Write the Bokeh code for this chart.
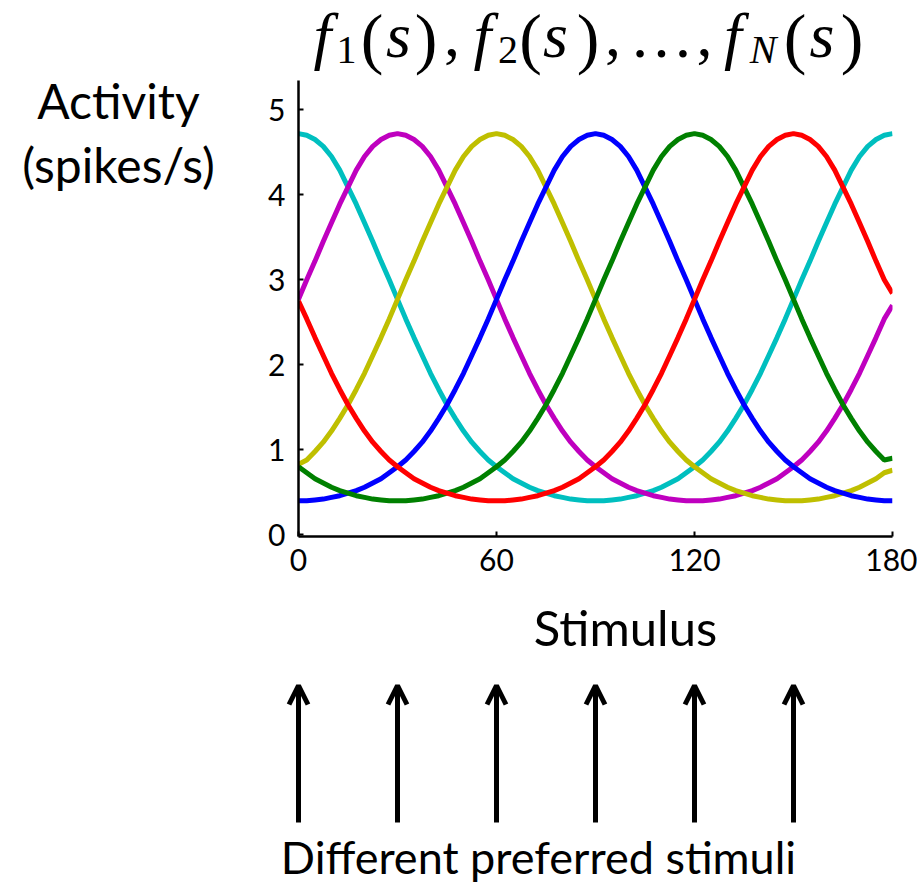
from bokeh.plotting import figure
from bokeh.layouts import column, row
from bokeh.models import Range1d, Label, Arrow, OpenHead, FixedTicker, ColumnDataSource
from bokeh.embed import file_html
from bokeh.resources import INLINE

# ---------------- data (every 2.5 degrees) ----------------
stimulus = [2.5 * i for i in range(73)]
preferred = [0, 30, 60, 90, 120, 150]

cyan = [4.72, 4.70, 4.65, 4.57, 4.45, 4.29, 4.09, 3.89, 3.67, 3.45, 3.22, 3.00, 2.77,
        2.54, 2.32, 2.11, 1.90, 1.71, 1.53, 1.37, 1.22, 1.09, 0.98, 0.88, 0.80, 0.73,
        0.66, 0.61, 0.56, 0.52, 0.49, 0.46, 0.44, 0.42, 0.41, 0.40, 0.40,
        0.40, 0.41, 0.42, 0.44, 0.46, 0.49, 0.52, 0.56, 0.61, 0.66, 0.73, 0.80, 0.88,
        0.98, 1.09, 1.22, 1.37, 1.53, 1.71, 1.90, 2.11, 2.32, 2.54, 2.77, 3.00, 3.22,
        3.45, 3.67, 3.89, 4.09, 4.29, 4.45, 4.57, 4.65, 4.70, 4.72]
magenta = [2.77, 3.00, 3.22, 3.45, 3.67, 3.89, 4.09, 4.29, 4.45, 4.57, 4.65, 4.70, 4.72,
           4.70, 4.65, 4.57, 4.45, 4.29, 4.09, 3.89, 3.67, 3.45, 3.22, 3.00, 2.77, 2.54,
           2.32, 2.11, 1.90, 1.71, 1.53, 1.37, 1.22, 1.09, 0.98, 0.88, 0.80, 0.73, 0.66,
           0.61, 0.56, 0.52, 0.49, 0.46, 0.44, 0.42, 0.41, 0.40, 0.40,
           0.40, 0.41, 0.42, 0.44, 0.46, 0.49, 0.52, 0.56, 0.61, 0.66, 0.73, 0.80, 0.88,
           0.98, 1.09, 1.22, 1.37, 1.53, 1.71, 1.90, 2.11, 2.32, 2.54, 2.70]
yellow = [0.83, 0.88, 0.98, 1.09, 1.22, 1.37, 1.53, 1.71, 1.90, 2.11, 2.32, 2.54, 2.77,
          3.00, 3.22, 3.45, 3.67, 3.89, 4.09, 4.29, 4.45, 4.57, 4.65, 4.70, 4.72,
          4.70, 4.65, 4.57, 4.45, 4.29, 4.09, 3.89, 3.67, 3.45, 3.22, 3.00, 2.77, 2.54,
          2.32, 2.11, 1.90, 1.71, 1.53, 1.37, 1.22, 1.09, 0.98, 0.88, 0.80, 0.73, 0.66,
          0.61, 0.56, 0.52, 0.49, 0.46, 0.44, 0.42, 0.41, 0.40, 0.40,
          0.40, 0.41, 0.42, 0.44, 0.46, 0.49, 0.52, 0.56, 0.61, 0.66, 0.73, 0.76]
blue = [0.40, 0.40, 0.41, 0.42, 0.44, 0.46, 0.49, 0.52, 0.56, 0.61, 0.66, 0.73, 0.80,
        0.88, 0.98, 1.09, 1.22, 1.37, 1.53, 1.71, 1.90, 2.11, 2.32, 2.54, 2.77, 3.00,
        3.22, 3.45, 3.67, 3.89, 4.09, 4.29, 4.45, 4.57, 4.65, 4.70, 4.72,
        4.70, 4.65, 4.57, 4.45, 4.29, 4.09, 3.89, 3.67, 3.45, 3.22, 3.00, 2.77, 2.54,
        2.32, 2.11, 1.90, 1.71, 1.53, 1.37, 1.22, 1.09, 0.98, 0.88, 0.80, 0.73, 0.66,
        0.61, 0.56, 0.52, 0.49, 0.46, 0.44, 0.42, 0.41, 0.40, 0.40]
green = [0.80, 0.73, 0.66, 0.61, 0.56, 0.52, 0.49, 0.46, 0.44, 0.42, 0.41, 0.40, 0.40,
         0.40, 0.41, 0.42, 0.44, 0.46, 0.49, 0.52, 0.56, 0.61, 0.66, 0.73, 0.80, 0.88,
         0.98, 1.09, 1.22, 1.37, 1.53, 1.71, 1.90, 2.11, 2.32, 2.54, 2.77, 3.00, 3.22,
         3.45, 3.67, 3.89, 4.09, 4.29, 4.45, 4.57, 4.65, 4.70, 4.72,
         4.70, 4.65, 4.57, 4.45, 4.29, 4.09, 3.89, 3.67, 3.45, 3.22, 3.00, 2.77, 2.54,
         2.32, 2.11, 1.90, 1.71, 1.53, 1.37, 1.22, 1.09, 0.98, 0.88, 0.90]
red = [2.75, 2.54, 2.32, 2.11, 1.90, 1.71, 1.53, 1.37, 1.22, 1.09, 0.98, 0.88, 0.80,
       0.73, 0.66, 0.61, 0.56, 0.52, 0.49, 0.46, 0.44, 0.42, 0.41, 0.40, 0.40,
       0.40, 0.41, 0.42, 0.44, 0.46, 0.49, 0.52, 0.56, 0.61, 0.66, 0.73, 0.80, 0.88,
       0.98, 1.09, 1.22, 1.37, 1.53, 1.71, 1.90, 2.11, 2.32, 2.54, 2.77, 3.00, 3.22,
       3.45, 3.67, 3.89, 4.09, 4.29, 4.45, 4.57, 4.65, 4.70, 4.72,
       4.70, 4.65, 4.57, 4.45, 4.29, 4.09, 3.89, 3.67, 3.45, 3.22, 3.00, 2.84]

series_values = [cyan, magenta, yellow, blue, green, red]
series_colors = ["#00BFBF", "#BF00BF", "#BFBF00", "#0000FF", "#008000", "#FF0000"]

x_ticks = [0, 60, 120, 180]
y_ticks = [0, 1, 2, 3, 4, 5]

# ---------------- layout geometry (page pixels) ----------------
TOTAL_W = 917
TITLE_H = 80          # page y 0..80   (title strip, right of the left strip)
MID_H = 500           # page y 80..580 (main plot)
BOT_H = 305           # page y 580..885
LEFT_W = 240          # left strip spans page y 0..580
FRAME_W = 594
PX_PER_DEG = 3.3
PX_PER_UNIT = 85.0
FRAME_LEFT = 298      # page x of stimulus = 0
ZERO_Y = 534.3        # page y of activity = 0
AXIS_Y = 536          # page y of the x axis line
BASE_SHIFT = 0.38     # em correction for label baseline placement

LABEL_FONT = "Lato"
SERIF = "Times New Roman"


def blank_fig(w, h, xr, yr):
    f = figure(width=w, height=h, x_range=xr, y_range=yr, output_backend="svg",
               toolbar_location=None, x_axis_location=None, y_axis_location=None,
               min_border=0, min_border_left=0, min_border_right=0,
               min_border_top=0, min_border_bottom=0)
    f.outline_line_color = None
    f.grid.visible = False
    f.background_fill_color = "white"
    f.border_fill_color = "white"
    return f


def put(f, text, x, y, size, font=LABEL_FONT, style="normal", align="center"):
    f.add_layout(Label(x=x, y=y - BASE_SHIFT * size, text=text, text_align=align,
                       text_baseline="alphabetic", text_font=font,
                       text_font_size=f"{size}px", text_font_style=style,
                       text_color="black"))


main_w = TOTAL_W - LEFT_W

# ---------------- title strip: f1(s), f2(s), ..., fN(s) ----------------
# its frame is aligned by the column layout with the main plot frame (page x 298..892)
title_fig = blank_fig(main_w, TITLE_H, Range1d(FRAME_LEFT, FRAME_LEFT + FRAME_W), Range1d(TITLE_H, 0))
UP = 2
PAREN = 68
title_parts = [
    ("f", 322, 61, 64, "italic"), ("1", 346, 66.5, 40, "normal"),
    ("(", 371.5, 65, PAREN, "normal"), ("s", 398, 61, 64, "italic"), (")", 425.5, 65, PAREN, "normal"),
    (",", 451.5, 61, 64, "normal"),
    ("f", 482, 61, 64, "italic"), ("2", 507.5, 66.5, 40, "normal"),
    ("(", 530, 65, PAREN, "normal"), ("s", 555, 61, 64, "italic"), (")", 587.5, 65, PAREN, "normal"),
    (",", 612.5, 61, 64, "normal"), ("\u2026", 661, 61, 64, "normal"), (",", 704, 61, 64, "normal"),
    ("f", 732.5, 61, 64, "italic"), ("N", 762.5, 66.5, 40, "italic"),
    ("(", 794.5, 65, PAREN, "normal"), ("s", 821.5, 61, 64, "italic"), (")", 851.5, 65, PAREN, "normal"),
]
for t, px, py, size, style in title_parts:
    put(title_fig, t, px, py - UP, size, font=SERIF, style=style)

# ---------------- left strip: y label ----------------
left_fig = blank_fig(LEFT_W, TITLE_H + MID_H, Range1d(0, LEFT_W), Range1d(TITLE_H + MID_H, 0))
put(left_fig, "Activity", 118, 118, 48)
put(left_fig, "(spikes/s)", 118, 182, 48)

# ---------------- main plot ----------------
bottom_border = TITLE_H + MID_H - AXIS_Y
y_lo = -(AXIS_Y - ZERO_Y) / PX_PER_UNIT
y_hi = (ZERO_Y - TITLE_H) / PX_PER_UNIT
p = figure(width=main_w, height=MID_H, x_range=Range1d(0, 180), y_range=Range1d(y_lo, y_hi),
           output_backend="svg", toolbar_location=None,
           min_border_left=FRAME_LEFT - LEFT_W, min_border_right=main_w - (FRAME_LEFT - LEFT_W) - FRAME_W,
           min_border_top=0, min_border_bottom=bottom_border)
p.outline_line_color = None
p.grid.visible = False
p.background_fill_color = "white"
p.border_fill_color = "white"
p.xaxis.ticker = FixedTicker(ticks=x_ticks)
p.yaxis.ticker = FixedTicker(ticks=y_ticks)
for ax in p.axis:
    ax.major_tick_in = 5
    ax.major_tick_out = 0
    ax.minor_tick_in = 0
    ax.minor_tick_out = 0
    ax.major_tick_line_width = 2
    ax.axis_line_width = 2.5
    ax.axis_line_color = "black"
    ax.major_tick_line_color = "black"
    ax.major_label_text_font = LABEL_FONT
    ax.major_label_text_font_size = "30px"
    ax.major_label_text_color = "black"
p.xaxis.major_label_standoff = 12
p.yaxis.major_label_standoff = 13

for vals, col in zip(series_values, series_colors):
    p.line(stimulus, vals, line_color=col, line_width=5)

# ---------------- bottom strip: x label, arrows, caption ----------------
bx0 = -FRAME_LEFT / PX_PER_DEG
bx1 = (TOTAL_W - FRAME_LEFT) / PX_PER_DEG
bot_top = TITLE_H + MID_H
bottom_fig = blank_fig(TOTAL_W, BOT_H, Range1d(bx0, bx1), Range1d(bot_top + BOT_H, bot_top))
put(bottom_fig, "Stimulus", (625 - FRAME_LEFT) / PX_PER_DEG, 645, 49)
put(bottom_fig, "Different preferred stimuli", (538 - FRAME_LEFT) / PX_PER_DEG, 874, 45)

arrow_src = ColumnDataSource(dict(x=preferred, y0=[822] * len(preferred), y1=[685] * len(preferred)))
bottom_fig.add_layout(Arrow(x_start="x", y_start="y0", x_end="x", y_end="y1", source=arrow_src,
                            line_width=5, line_color="black",
                            end=OpenHead(size=19, line_width=5, line_color="black")))

layout = column(row(left_fig, column(title_fig, p)), bottom_fig)
open("out.html", "w").write(file_html(layout, INLINE))
